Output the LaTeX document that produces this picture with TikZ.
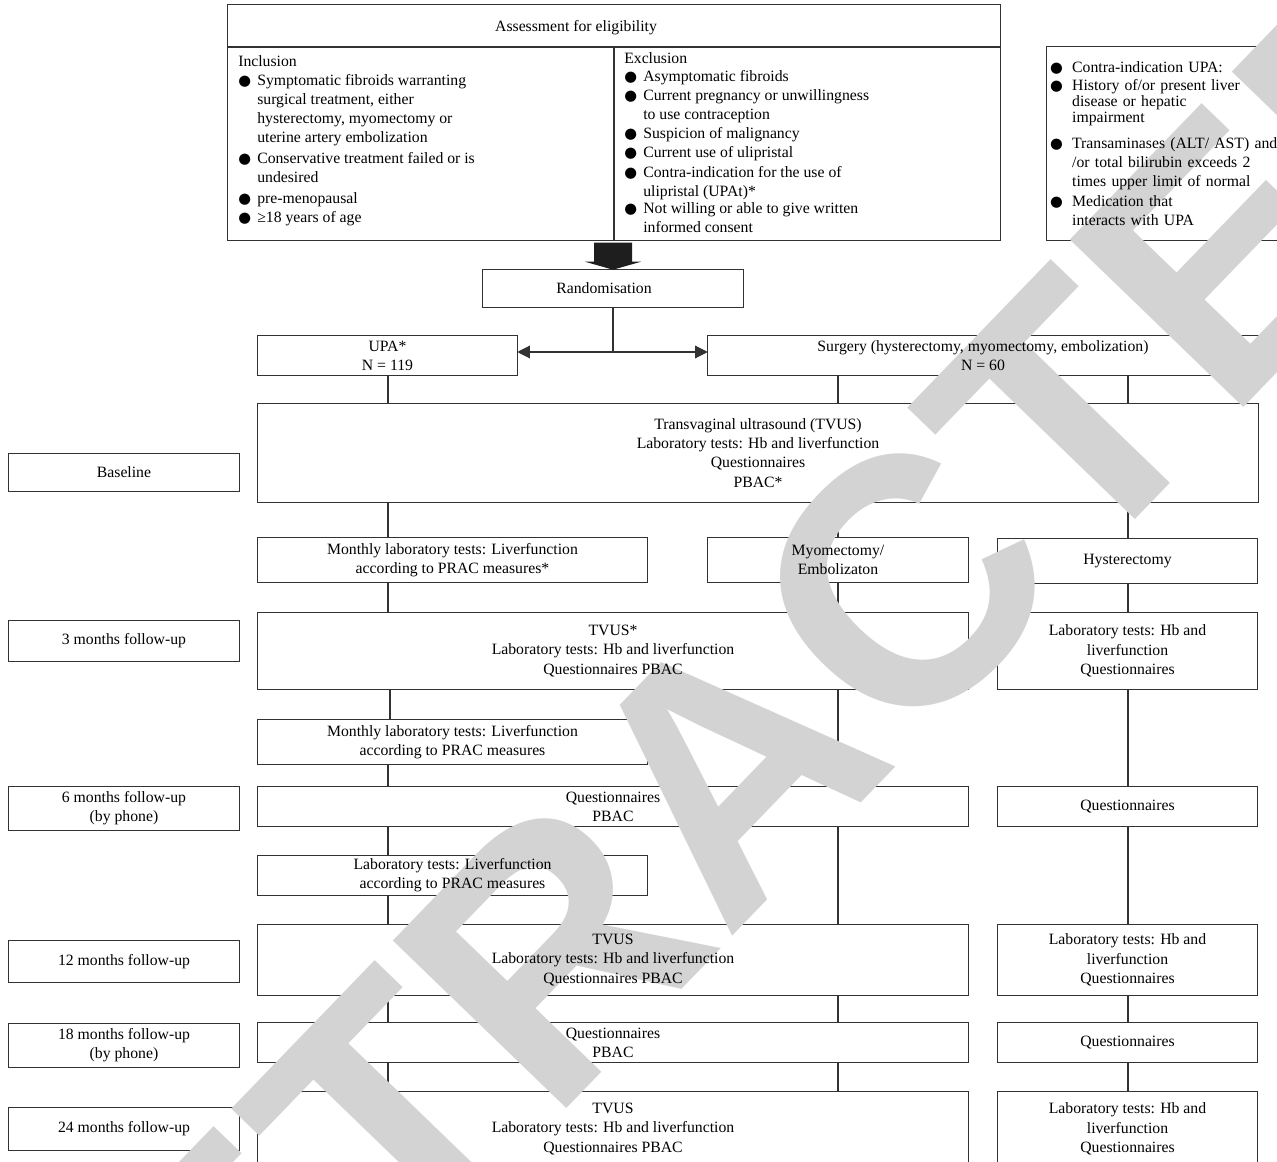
\documentclass[tikz,border=0pt]{standalone}
\usepackage{fontspec}
\setmainfont{Liberation Serif}
\newfontfamily\symfont{DejaVu Sans}
\newfontfamily\wmfont{Liberation Sans}
\usetikzlibrary{arrows.meta,calc}
\pgfdeclarelayer{lines}
\pgfdeclarelayer{wm}
\pgfsetlayers{lines,wm,main}
\definecolor{linec}{RGB}{50,50,50}
\definecolor{wmgray}{RGB}{211,211,211}
\definecolor{fatc}{RGB}{30,30,30}
\newcommand{\bulglyph}{{\symfont\fontsize{11}{11}\selectfont ●}}
\newcommand{\lbul}{\makebox[14.25pt][l]{\bulglyph}}
\newcommand{\lind}{\hspace*{14.25pt}}
\newcommand{\rbul}{\makebox[16.5pt][l]{\bulglyph}}
\newcommand{\rind}{\hspace*{16.5pt}}
\begin{document}
\begin{tikzpicture}[x=0.75pt,y=-0.75pt,
  every node/.style={font=\fontsize{11.8}{14.4}\selectfont, inner sep=0pt},
  box/.style 2 args={minimum width=#1*0.75pt, minimum height=#2*0.75pt, align=center},
  frame/.style={draw=linec, line width=0.9pt},
  conn/.style={draw=linec, line width=0.9pt},
  list/.style={anchor=north west, align=left},
  wmark/.style={rotate=46, text=wmgray, font=\wmfont\bfseries\fontsize{263}{263}\selectfont}]
\useasboundingbox (0,0) rectangle (1277,1162);

% eligibility block
\node[box={772}{42}, text height=9pt, text depth=0pt] (title) at (614,26) {Assessment for eligibility\hspace*{57pt}};
\node[box={772}{193}] (crit) at (614,143.5) {};
\node[list] (incl) at (238,55) {Inclusion\\
\lbul Symptomatic fibroids warranting\\
\lind surgical treatment, either\\
\lind hysterectomy, myomectomy or\\
\lind uterine artery embolization\\[1pt]
\lbul Conservative treatment failed or is\\
\lind undesired\\[1pt]
\lbul pre-menopausal\\
\lbul ≥18 years of age};
\node[list, font=\fontsize{11.8}{14.1}\selectfont] (excl) at (624,52) {Exclusion\\
\lbul Asymptomatic fibroids\\
\lbul Current pregnancy or unwillingness\\
\lind to use contraception\\
\lbul Suspicion of malignancy\\
\lbul Current use of ulipristal\\[1.5pt]
\lbul Contra-indication for the use of\\
\lind ulipristal (UPAt)*\\[-1.5pt]
\lbul Not willing or able to give written\\
\lind informed consent};
\node[box={253}{193}, align=left, text width=185pt] (ci) at (1173.5,143.5) {%
\rbul Contra-indication UPA:\\[-0.9pt]
\rbul History of/or present liver\\[-2.4pt]
\rind disease or hepatic\\[-2.4pt]
\rind impairment\\[5pt]
\rbul Transaminases (ALT/ AST) and\\
\rind /or total bilirubin exceeds 2\\
\rind times upper limit of normal\\
\rbul Medication that\\
\rind interacts with UPA};

% flow
\node[box={260}{37}] (rand) at (613,288.5) {Randomisation\hspace*{13.5pt}};
\node[box={259}{39}] (upa) at (387.5,355.5) {UPA*\\N = 119};
\node[box={550}{39}] (surg) at (983,355.5) {Surgery (hysterectomy, myomectomy, embolization)\\N = 60};
\node[box={1000}{98}] (tvus0) at (758,453) {Transvaginal ultrasound (TVUS)\\Laboratory tests: Hb and liverfunction\\Questionnaires\\PBAC*};
\node[box={230}{37}] (lbase) at (124,472.5) {Baseline};
\node[box={389}{44}] (mon1) at (452.5,560) {Monthly laboratory tests: Liverfunction\\according to PRAC measures*};
\node[box={260}{44}] (myo) at (838,560) {Myomectomy/\\Embolizaton};
\node[box={259}{44}] (hyst) at (1127.5,561) {Hysterectomy};
\node[box={710}{76}] (m3) at (613,651) {TVUS*\\Laboratory tests: Hb and liverfunction\\Questionnaires PBAC};
\node[box={259}{76}] (m3r) at (1127.5,651) {Laboratory tests: Hb and\\liverfunction\\Questionnaires};
\node[box={230}{40}] (l3) at (124,641) {3 months follow-up};
\node[box={389}{44}] (mon2) at (452.5,742) {Monthly laboratory tests: Liverfunction\\according to PRAC measures};
\node[box={710}{39}] (m6) at (613,806.5) {Questionnaires\\PBAC};
\node[box={259}{39}] (m6r) at (1127.5,806.5) {Questionnaires};
\node[box={230}{43}] (l6) at (124,808.5) {6 months follow-up\\(by phone)};
\node[box={389}{39}] (lab) at (452.5,875.5) {Laboratory tests: Liverfunction\\according to PRAC measures};
\node[box={710}{70}] (m12) at (613,960) {TVUS\\Laboratory tests: Hb and liverfunction\\Questionnaires PBAC};
\node[box={259}{70}] (m12r) at (1127.5,960) {Laboratory tests: Hb and\\liverfunction\\Questionnaires};
\node[box={230}{41}] (l12) at (124,961.5) {12 months follow-up};
\node[box={710}{39}] (m18) at (613,1042.5) {Questionnaires\\PBAC};
\node[box={259}{39}] (m18r) at (1127.5,1042.5) {Questionnaires};
\node[box={230}{43}] (l18) at (124,1045.5) {18 months follow-up\\(by phone)};
\node[box={710}{74}] (m24) at (613,1129) {TVUS\\Laboratory tests: Hb and liverfunction\\Questionnaires PBAC};
\node[box={259}{74}] (m24r) at (1127.5,1129) {Laboratory tests: Hb and\\liverfunction\\Questionnaires};
\node[box={230}{42}] (l24) at (124,1129) {24 months follow-up};

\coordinate (cL) at (388,0);
\coordinate (cL2) at (390,0);
\coordinate (cM) at (838,0);
\coordinate (cR) at (1128,0);
\coordinate (split) at (613,352);

\begin{pgfonlayer}{lines}
\begin{scope}
\clip (0,0) rectangle (1277,1162);
\foreach \n in {title,crit,ci,rand,upa,surg,tvus0,lbase,mon1,myo,hyst,m3,m3r,l3,mon2,m6,m6r,l6,lab,m12,m12r,l12,m18,m18r,l18,m24,m24r,l24}
  \draw[frame] (\n.north west) rectangle (\n.south east);
\draw[conn] (crit.north) -- (crit.south);
\draw[conn] (rand.south) -- (split);
\draw[conn, {Triangle[length=9.5pt,width=9.5pt]}-{Triangle[length=9.5pt,width=9.5pt]}] (upa.east |- split) -- (surg.west |- split);
\foreach \a/\b/\c in {upa/tvus0/cL, surg/tvus0/cM, surg/tvus0/cR, tvus0/mon1/cL, tvus0/myo/cM, tvus0/hyst/cR, mon1/m3/cL, myo/m3/cM, hyst/m3r/cR, m3/mon2/cL2, mon2/m6/cL, m3/m6/cM, m3r/m6r/cR, m6/lab/cL, lab/m12/cL, m6/m12/cM, m6r/m12r/cR, m12/m18/cL, m12/m18/cM, m12r/m18r/cR, m18/m24/cL, m18/m24/cM, m18r/m24r/cR}
  \draw[conn] (\a.south -| \c) -- (\b.north -| \c);
\fill[fatc] ($(rand.north)+(-19,-27)$) -- ($(rand.north)+(19,-27)$) -- ($(rand.north)+(19,-8)$) -- ($(rand.north)+(28,-8)$) -- (rand.north) -- ($(rand.north)+(-28,-8)$) -- ($(rand.north)+(-19,-8)$) -- cycle;
\end{scope}
\end{pgfonlayer}

\begin{pgfonlayer}{wm}
\begin{scope}
\clip (0,0) rectangle (1277,1162);
\node[wmark] (wmk) at (728,768) {RETRACTED};
\end{scope}
\end{pgfonlayer}
\end{tikzpicture}
\end{document}
